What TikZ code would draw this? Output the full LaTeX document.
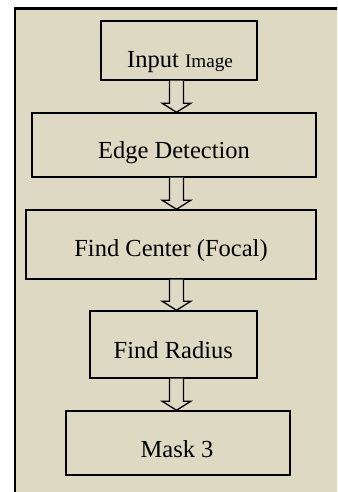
\documentclass[tikz,border=0pt]{standalone}
\usepackage{fontspec}
\setmainfont{Liberation Serif}
\usetikzlibrary{calc}
\definecolor{tanbg}{HTML}{DDD9C3}
\begin{document}
\begin{tikzpicture}[x=1bp,y=-1bp,
  box/.style={draw=black, fill=tanbg, line width=1.4bp, inner sep=0pt, rectangle},
  lbl/.style={inner sep=0pt, anchor=base, font=\fontsize{24.6}{28}\selectfont},
  hollow/.style={draw=black, fill=tanbg, line width=1.3bp, line join=miter}]
\useasboundingbox (0,0) rectangle (337,492);
\clip (0,0) rectangle (337,492);
\fill[white] (0,0) rectangle (337,492);
\draw[line width=2.2bp, fill=tanbg] (14.8,8.6) rectangle (350,505);
% boxes
\node[box, minimum width=156bp, minimum height=59bp] (b1) at (179,50.5) {};
\node[box, minimum width=284bp, minimum height=64bp] (b2) at (174,145) {};
\node[box, minimum width=290bp, minimum height=69bp] (b3) at (171,244.5) {};
\node[box, minimum width=167bp, minimum height=67bp] (b4) at (173.5,344.5) {};
\node[box, minimum width=224bp, minimum height=64bp] (b5) at (178,443) {};
% labels
\node[lbl] (t1) at (180,67.7) {Input {\fontsize{19.2}{22}\selectfont Image}};
\node[lbl] (t2) at (174,159) {Edge Detection};
\node[lbl] (t3) at (171,256.7) {Find Center (Focal)};
\node[lbl] (t4) at (173.3,358) {Find Radius};
\node[lbl] (t5) at (177,457.7) {Mask 3};
% arrows
\coordinate (ax) at (176.5,0);
\foreach \a/\b in {b1/b2,b2/b3,b3/b4,b4/b5}{
  \draw[hollow]
    ($(\a.south -| ax)+(-7,0)$) -- ($(\b.north -| ax)+(-7,-9)$)
    -- ($(\b.north -| ax)+(-14.2,-9)$) -- (\b.north -| ax)
    -- ($(\b.north -| ax)+(14.2,-9)$) -- ($(\b.north -| ax)+(7,-9)$)
    -- ($(\a.south -| ax)+(7,0)$);
}
\end{tikzpicture}
\end{document}
